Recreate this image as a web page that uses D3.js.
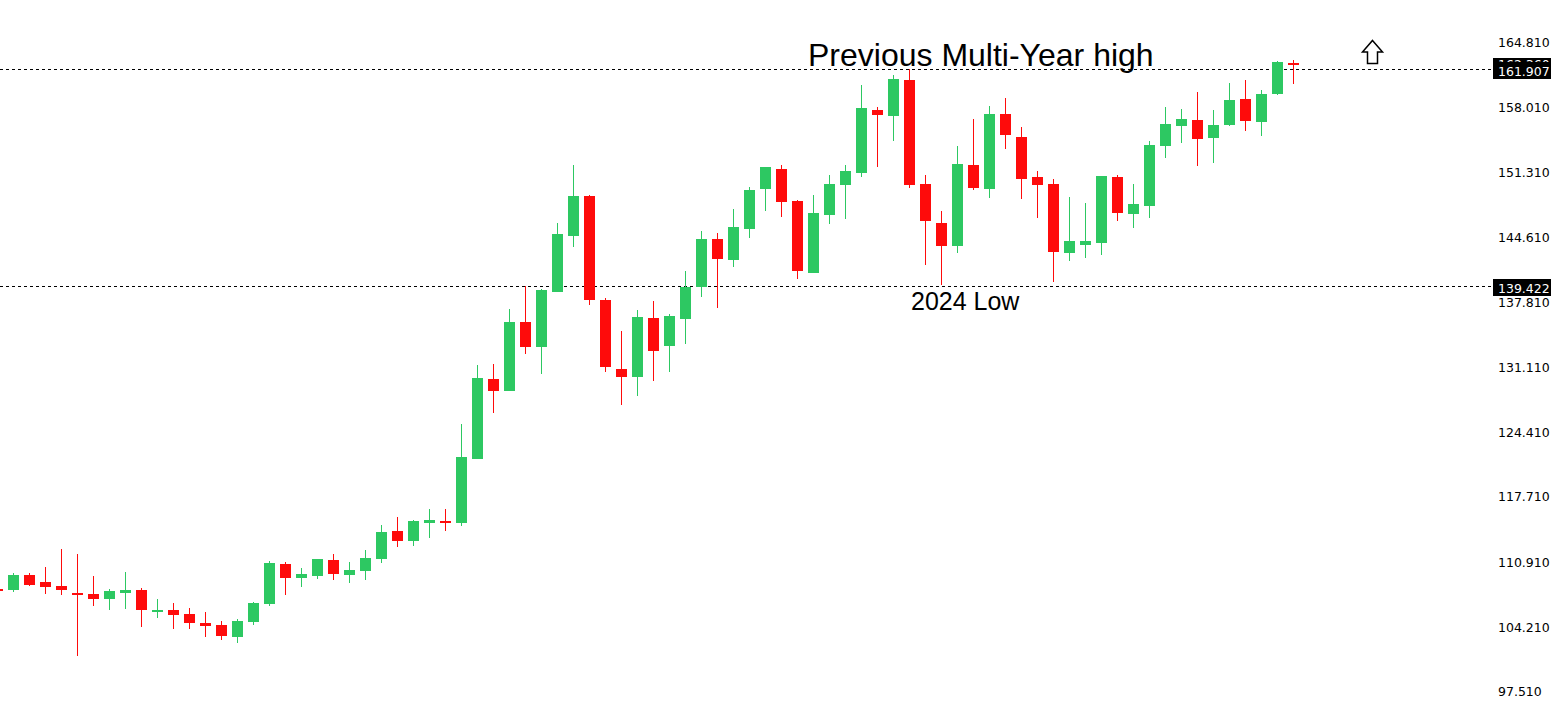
<!DOCTYPE html>
<html>
<head>
<meta charset="utf-8">
<script src="https://cdn.jsdelivr.net/npm/d3@7"></script>
<style>
  body { margin: 0; background: #fff; }
  svg { display: block; }
</style>
</head>
<body>
<script>
// weekly candles, oldest first (first one is cut off by the left edge)
var opens = [108.06, 107.95, 109.51, 108.78, 108.37, 107.64, 107.54, 107.02, 107.64, 107.95,
    105.67, 105.88, 105.46, 104.53, 104.33, 103.08, 104.64, 106.50, 110.65, 109.20,
    109.41, 111.06, 109.51, 109.92, 111.17, 114.07, 113.03, 114.90, 115.10, 114.90,
    121.53, 129.82, 128.58, 135.72, 133.13, 138.83, 144.64, 148.78, 138.00, 130.85,
    130.03, 136.14, 133.24, 136.04, 139.35, 144.33, 142.15, 145.36, 149.51, 151.58,
    148.26, 140.80, 146.82, 149.92, 151.16, 157.69, 157.07, 160.80, 150.02, 145.98,
    143.60, 151.99, 149.51, 157.28, 154.89, 150.75, 150.02, 142.87, 143.70, 143.91,
    150.75, 146.92, 147.74, 153.96, 156.03, 156.66, 154.79, 156.14, 158.83, 156.45,
    159.35, 162.56];
var highs = [108.16, 109.72, 109.72, 110.34, 112.20, 111.69, 109.41, 108.06, 109.82, 108.16,
    107.02, 106.61, 106.09, 105.67, 104.74, 104.95, 106.71, 110.96, 110.86, 110.23,
    111.17, 111.69, 110.86, 112.10, 114.69, 115.52, 115.21, 116.35, 116.35, 125.16,
    131.27, 131.37, 137.07, 139.46, 139.14, 145.98, 151.99, 148.89, 138.21, 134.79,
    136.97, 137.90, 136.55, 141.01, 145.15, 144.95, 147.43, 149.71, 151.79, 151.99,
    148.37, 148.89, 150.96, 151.99, 160.28, 158.00, 161.32, 161.94, 150.96, 147.23,
    153.96, 156.76, 158.11, 158.93, 155.93, 151.37, 150.54, 148.68, 148.05, 150.85,
    150.96, 150.02, 154.48, 158.00, 157.80, 159.56, 157.69, 160.49, 160.80, 159.76,
    162.77, 162.87];
var lows = [107.85, 107.75, 108.37, 107.54, 107.44, 101.12, 106.30, 105.88, 105.99, 104.12,
    105.05, 103.91, 103.91, 103.08, 102.77, 102.46, 104.33, 106.30, 107.44, 108.26,
    109.10, 108.99, 108.68, 108.99, 110.75, 112.41, 112.51, 113.34, 114.07, 114.59,
    121.53, 126.30, 128.58, 132.41, 130.34, 138.83, 143.50, 137.49, 130.54, 127.12,
    128.06, 129.61, 130.54, 133.44, 138.31, 137.18, 141.42, 144.43, 147.23, 146.61,
    140.18, 140.80, 145.88, 146.40, 150.75, 151.79, 154.48, 149.61, 141.63, 139.56,
    142.87, 149.40, 148.57, 153.65, 148.47, 146.50, 139.87, 142.04, 142.36, 142.67,
    146.19, 145.46, 146.50, 152.72, 154.27, 151.89, 152.20, 156.03, 155.52, 155.00,
    159.25, 160.39];
var closes = [107.95, 109.51, 108.47, 108.26, 107.95, 107.44, 107.02, 107.85, 107.95, 105.88,
    105.88, 105.36, 104.53, 104.22, 103.19, 104.74, 106.61, 110.75, 109.20, 109.61,
    111.17, 109.61, 110.03, 111.27, 113.96, 113.03, 115.10, 115.21, 114.90, 121.74,
    129.92, 128.58, 135.72, 133.13, 139.04, 144.84, 148.78, 138.00, 131.06, 130.03,
    136.24, 132.72, 136.35, 139.35, 144.33, 142.25, 145.57, 149.40, 151.79, 148.16,
    141.01, 147.02, 150.02, 151.37, 157.90, 157.17, 160.90, 149.92, 146.19, 143.60,
    152.10, 149.61, 157.28, 155.10, 150.54, 149.92, 142.98, 144.12, 144.12, 150.85,
    147.02, 147.95, 154.07, 156.24, 156.76, 154.69, 156.14, 158.73, 156.55, 159.35,
    162.67, 162.36];

// price scale labels on the right
var tickValues = [164.81, 158.01, 151.31, 144.61, 137.81, 131.11, 124.41, 117.71, 110.91, 104.21, 97.51];

// horizontal levels drawn on the chart
var levels = [161.907, 139.422];
var levelNotes = ["Previous Multi-Year high", "2024 Low"];

var width = 1560,
    height = 718,
    bodyWidth = 11,
    green = "#2dc862",
    red = "#fe0b0b";

var candles = d3.range(opens.length).map(function(i) {
    return {i: i, o: opens[i], h: highs[i], l: lows[i], c: closes[i]};
});

var x = d3.scaleLinear()
    .domain([0, candles.length - 1])
    .range([-2.5, 1293.5]);

var y = d3.scaleLinear()
    .domain([97.51, 164.81])
    .range([690.8, 41.3]);

var svg = d3.select("body").append("svg")
    .attr("width", width)
    .attr("height", height)
    .style("font-family", "'DejaVu Sans', sans-serif");

svg.append("rect")
    .attr("width", width)
    .attr("height", height)
    .attr("fill", "#fff");

// price axis, no domain line, no tick marks
var axis = svg.append("g")
    .attr("transform", "translate(1498,1)")
    .call(d3.axisRight(y)
        .tickValues(tickValues)
        .tickSize(0)
        .tickPadding(0)
        .tickFormat(d3.format(".3f")));
axis.select(".domain").remove();
axis.selectAll("text")
    .attr("fill", "#000")
    .style("font-size", "12.5px")
    .style("font-family", "'DejaVu Sans', sans-serif");

// dashed level lines
svg.append("g")
    .selectAll("line")
    .data(levels)
    .enter()
    .append("line")
    .attr("x1", 0)
    .attr("x2", 1493)
    .attr("y1", function(d) { return Math.round(y(d)) + 0.5; })
    .attr("y2", function(d) { return Math.round(y(d)) + 0.5; })
    .attr("stroke", "#000")
    .attr("stroke-width", 1)
    .attr("stroke-dasharray", "3,3");

// candles
var g = svg.append("g");
var candle = g.selectAll("g")
    .data(candles)
    .enter()
    .append("g");

candle.append("line")
    .attr("x1", function(d) { return x(d.i); })
    .attr("x2", function(d) { return x(d.i); })
    .attr("y1", function(d) { return Math.round(y(d.h)); })
    .attr("y2", function(d) { return Math.round(y(d.l)); })
    .attr("stroke", function(d) { return d.c >= d.o ? green : red; })
    .attr("stroke-width", 1);

candle.append("rect")
    .attr("x", function(d) { return x(d.i) - bodyWidth / 2; })
    .attr("y", function(d) { return Math.round(y(Math.max(d.o, d.c))); })
    .attr("width", bodyWidth)
    .attr("height", function(d) {
        return Math.max(2, Math.round(y(Math.min(d.o, d.c))) - Math.round(y(Math.max(d.o, d.c))));
    })
    .attr("fill", function(d) { return d.c >= d.o ? green : red; });

// level notes
svg.append("text")
    .attr("x", 808)
    .attr("y", 66)
    .style("font-family", "'Liberation Sans', Arial, sans-serif")
    .style("font-size", "32px")
    .attr("fill", "#000")
    .text(levelNotes[0]);

svg.append("text")
    .attr("x", 911)
    .attr("y", 310)
    .style("font-family", "'Liberation Sans', Arial, sans-serif")
    .style("font-size", "25px")
    .attr("fill", "#000")
    .text(levelNotes[1]);

// price labels on the axis: current bid hidden behind the level label
var last = closes[closes.length - 1];
svg.append("rect")
    .attr("x", 1493).attr("y", 58)
    .attr("width", 58).attr("height", 21)
    .attr("fill", "#000");
svg.append("text")
    .attr("x", 1498).attr("y", 68.5)
    .attr("fill", "#fff")
    .style("font-size", "12.5px")
    .text(d3.format(".3f")(last));
svg.append("rect")
    .attr("x", 1493).attr("y", 62)
    .attr("width", 58).attr("height", 17)
    .attr("fill", "#000");

svg.append("g")
    .selectAll("text")
    .data(levels)
    .enter()
    .append("text")
    .attr("x", 1498)
    .attr("y", function(d, i) { return i == 0 ? 76 : 293; })
    .attr("fill", "#fff")
    .style("font-size", "12.5px")
    .text(function(d) { return d3.format(".3f")(d); });

svg.insert("rect", "g + g + text")
    .attr("x", 1493).attr("y", 279)
    .attr("width", 58).attr("height", 17)
    .attr("fill", "#000");

// hollow up arrow
svg.append("path")
    .attr("d", "M1372.5,40.5 L1382.5,52 L1377.5,52 L1377.5,63.5 L1367.5,63.5 L1367.5,52 L1362.5,52 Z")
    .attr("fill", "#fff")
    .attr("stroke", "#000")
    .attr("stroke-width", 1.5);
</script>
</body>
</html>
